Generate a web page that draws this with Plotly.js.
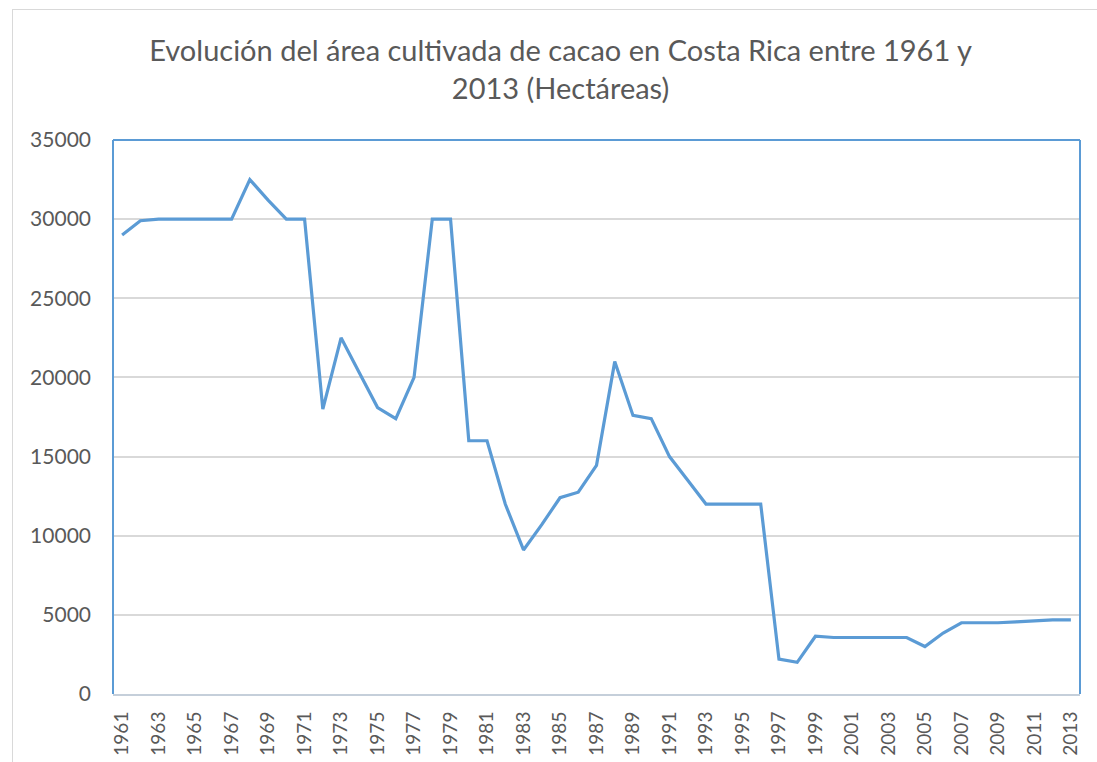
<!DOCTYPE html>
<html>
<head>
<meta charset="utf-8">
<script src="https://cdn.plot.ly/plotly-3.0.1.min.js"></script>
<style>
  html, body { margin: 0; padding: 0; background: #fff; }
  #wrap { position: relative; width: 1097px; height: 762px; overflow: hidden; }
  #chart { width: 1097px; height: 762px; }
  #frame { position: absolute; left: 12px; top: 9px; width: 1200px; height: 900px;
           border-left: 1px solid #D9D9D9; border-top: 1px solid #D9D9D9; pointer-events: none; }
</style>
</head>
<body>
<div id="wrap">
  <div id="chart"></div>
  <div id="frame"></div>
</div>
<script>
const years = [1961,1962,1963,1964,1965,1966,1967,1968,1969,1970,
               1971,1972,1973,1974,1975,1976,1977,1978,1979,1980,
               1981,1982,1983,1984,1985,1986,1987,1988,1989,1990,
               1991,1992,1993,1994,1995,1996,1997,1998,1999,2000,
               2001,2002,2003,2004,2005,2006,2007,2008,2009,2010,
               2011,2012,2013];
const hectares = [29000,29900,30000,30000,30000,30000,30000,32500,31200,30000,
                  30000,18000,22500,20300,18100,17400,20000,30000,30000,16000,
                  16000,12000,9100,10700,12400,12750,14450,21000,17600,17400,
                  15000,13500,12000,12000,12000,12000,2200,2000,3650,3570,
                  3570,3570,3570,3570,3000,3850,4500,4500,4500,4560,
                  4620,4680,4680];
const xTickYears = [1961,1963,1965,1967,1969,1971,1973,1975,1977,1979,1981,1983,1985,1987,
                    1989,1991,1993,1995,1997,1999,2001,2003,2005,2007,2009,2011,2013];
const yTicks = [0,5000,10000,15000,20000,25000,30000,35000];
const titleText = 'Evolución del área cultivada de cacao en Costa Rica entre 1961 y<br>2013 (Hectáreas)';

const FONT = 'Lato, Carlito, Calibri, sans-serif';
const trace = {
  x: years, y: hectares, type: 'scatter', mode: 'lines',
  line: {color: '#5B9BD5', width: 3.2, shape: 'linear'},
  hoverinfo: 'x+y'
};
const layout = {
  width: 1097, height: 762,
  margin: {l: 113, r: 17, t: 140, b: 68, pad: 0},
  paper_bgcolor: '#ffffff', plot_bgcolor: '#ffffff',
  showlegend: false,
  font: {family: FONT, color: '#595959'},
  title: {
    text: titleText,
    font: {family: FONT, size: 29, color: '#595959'},
    xref: 'container', x: 0.511, xanchor: 'center',
    yref: 'container', y: 1 - 61/762, yanchor: 'top'
  },
  xaxis: {
    type: 'linear', range: [1960.5, 2013.5],
    tickmode: 'array', tickvals: xTickYears, ticktext: xTickYears.map(String),
    tickangle: -90, ticks: '', showgrid: false, zeroline: false,
    showline: true, linecolor: '#C5CFDA', linewidth: 2,
    tickfont: {family: FONT, size: 19, color: '#595959'},
    ticklabelstandoff: 8
  },
  yaxis: {
    range: [0, 35000], tickmode: 'array', tickvals: yTicks,
    ticktext: yTicks.map(String),
    ticks: '', showgrid: true, gridcolor: '#D9D9D9', gridwidth: 1.5,
    zeroline: false, showline: false,
    tickfont: {family: FONT, size: 21, color: '#595959'},
    ticklabelstandoff: 21
  },
  shapes: [
    {type: 'line', xref: 'paper', yref: 'paper', x0: 0, x1: 0, y0: 0, y1: 1, line: {color: '#5B9BD5', width: 2}},
    {type: 'line', xref: 'paper', yref: 'paper', x0: 0, x1: 1, y0: 1, y1: 1, line: {color: '#5B9BD5', width: 2}},
    {type: 'line', xref: 'paper', yref: 'paper', x0: 1, x1: 1, y0: 0, y1: 1, line: {color: '#5B9BD5', width: 2}}
  ]
};
Plotly.newPlot('chart', [trace], layout, {displayModeBar: false});
</script>
</body>
</html>
